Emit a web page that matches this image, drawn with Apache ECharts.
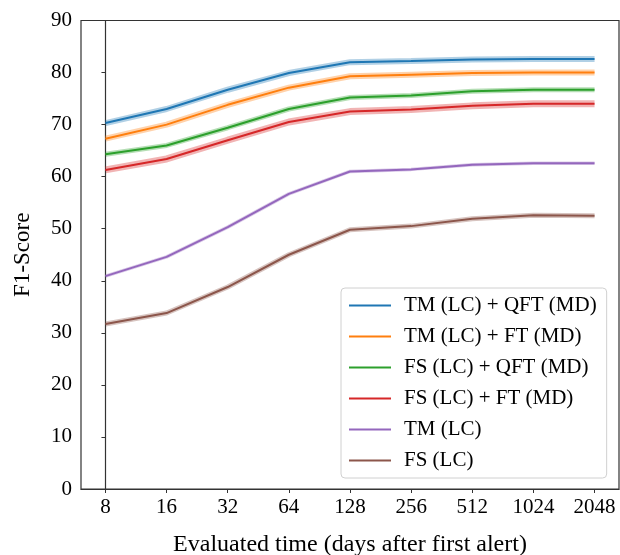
<!DOCTYPE html>
<html><head><meta charset="utf-8">
<script src="https://cdn.jsdelivr.net/npm/echarts@6/dist/echarts.min.js"></script>
<style>html,body{margin:0;padding:0;background:#fff}#c{width:620px;height:555px}</style>
</head><body><div id="c"></div>
<script>
const categories = ['8','16','32','64','128','256','512','1024','2048'];
const seriesNames = ['TM (LC) + QFT (MD)','TM (LC) + FT (MD)','FS (LC) + QFT (MD)','FS (LC) + FT (MD)','TM (LC)','FS (LC)'];
const tmQft = [70.3, 73.0, 76.7, 79.9, 82.0, 82.2, 82.5, 82.6, 82.6];
const tmFt  = [67.3, 70.0, 73.8, 77.1, 79.3, 79.6, 79.9, 80.0, 80.0];
const fsQft = [64.3, 66.0, 69.4, 73.0, 75.2, 75.6, 76.4, 76.7, 76.7];
const fsFt  = [61.3, 63.4, 67.0, 70.5, 72.5, 72.9, 73.6, 74.0, 74.0];
const tm    = [40.9, 44.6, 50.3, 56.7, 61.0, 61.4, 62.3, 62.6, 62.6];
const fs    = [31.7, 33.8, 38.8, 45.0, 49.8, 50.5, 51.9, 52.6, 52.5];
const yTicks = [0,10,20,30,40,50,60,70,80,90];

const allValues = [tmQft, tmFt, fsQft, fsFt, tm, fs];
const colors = ['#1f77b4','#ff7f0e','#2ca02c','#d62728','#9467bd','#8c564b'];
const bandWidths = [6, 6, 5, 7, 3.5, 5];
const FONT = '"Liberation Serif", "DejaVu Serif", serif';

const series = [];
allValues.forEach((vals, i) => {
  const pts = vals.map((v, k) => [k, v]);
  series.push({
    name: seriesNames[i] + ' band', type: 'line', data: pts, symbol: 'none', silent: true,
    lineStyle: { color: colors[i], width: bandWidths[i], opacity: 0.35 }, z: 2
  });
  series.push({
    name: seriesNames[i], type: 'line', data: pts, symbol: 'none',
    lineStyle: { color: colors[i], width: 2 }, itemStyle: { color: colors[i] }, z: 3
  });
});

const chart = echarts.init(document.getElementById('c'), null, { renderer: 'canvas' });
chart.setOption({
  animation: false,
  textStyle: { fontFamily: FONT, color: '#000' },
  grid: { left: 81, right: 1, top: 20.5, bottom: 66, outerBoundsMode: 'none', containLabel: false,
    show: true, borderColor: '#333', borderWidth: 1.2, backgroundColor: 'transparent' },
  legend: {
    data: seriesNames.map(n => ({ name: n, icon: 'rect' })), orient: 'vertical', left: 341, top: 288,
    padding: [7, 10, 7, 8], itemGap: 10, itemWidth: 42, itemHeight: 2,
    backgroundColor: 'rgba(255,255,255,0.8)', borderColor: '#d0d0d0', borderWidth: 1, borderRadius: 4,
    textStyle: { fontFamily: FONT, fontSize: 21, lineHeight: 21, color: '#000', padding: [0, 0, 0, 8] }
  },
  xAxis: {
    type: 'value', min: -0.4, max: 8.4,
    name: 'Evaluated time (days after first alert)', nameLocation: 'middle', nameGap: 44,
    nameTextStyle: { fontFamily: FONT, fontSize: 24, color: '#000' },
    axisLine: { show: true, lineStyle: { color: '#333', width: 1.2 } },
    axisTick: { show: true, length: 4, lineStyle: { color: '#333' }, customValues: categories.map((c, i) => i) },
    axisLabel: { fontFamily: FONT, fontSize: 21, color: '#000', margin: 8,
      customValues: categories.map((c, i) => i), formatter: v => categories[Math.round(v)] },
    splitLine: { show: false }
  },
  yAxis: {
    type: 'value', min: yTicks[0], max: yTicks[yTicks.length - 1], interval: 10,
    name: 'F1-Score', nameLocation: 'middle', nameGap: 47,
    nameTextStyle: { fontFamily: FONT, fontSize: 23, color: '#000' },
    axisLine: { show: true, lineStyle: { color: '#333', width: 1.2 } },
    axisTick: { show: true, length: 4, lineStyle: { color: '#333' } },
    axisLabel: { fontFamily: FONT, fontSize: 21, color: '#000', margin: 9 },
    splitLine: { show: false }
  },
  series: series
});
</script></body></html>
